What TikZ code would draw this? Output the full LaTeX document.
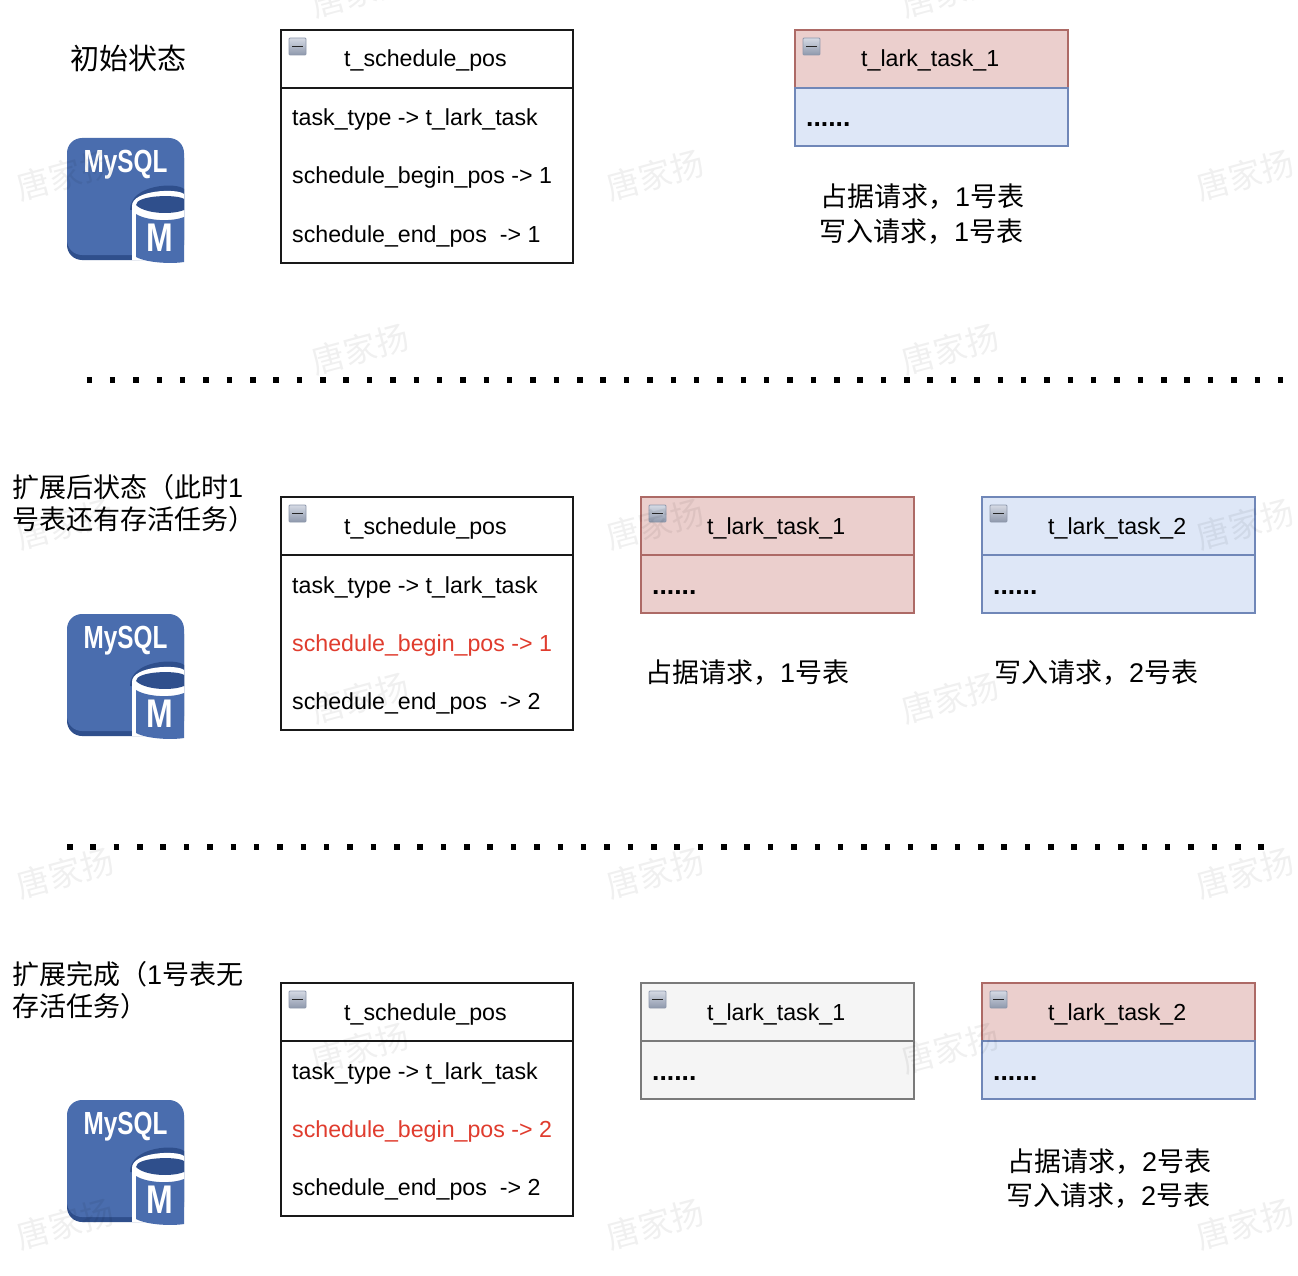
\documentclass[tikz,border=0pt]{standalone}
\usepackage{fontspec}
\setmainfont{Liberation Sans}
\newfontfamily\cjk{Noto Sans CJK SC}
\definecolor{redfill}{HTML}{EBCFCD}
\definecolor{redline}{HTML}{AD6A66}
\definecolor{bluefill}{HTML}{DEE7F7}
\definecolor{blueline}{HTML}{7087B8}
\definecolor{greyfill}{HTML}{F5F5F5}
\definecolor{greyline}{HTML}{7A7A7A}
\definecolor{awsblue}{HTML}{4A6DAE}
\definecolor{awsdark}{HTML}{2F4F8C}
\definecolor{hot}{HTML}{E03C2E}
\definecolor{togtop}{HTML}{D5DAE4}
\definecolor{togbot}{HTML}{8E98AC}
\newcommand{\zw}[1]{{\cjk #1}}
\newcommand{\tbltxt}{\fontsize{23.2}{26}\selectfont}
\newcommand{\cjktxt}{\fontsize{27}{33}\selectfont}
\tikzset{
  x=1pt,y=-1pt,
  cell/.style={draw,line width=2pt,rectangle,minimum width=#1,inner sep=0pt,outer sep=0pt,anchor=north west},
  rowtext/.style={anchor=base west,inner sep=0pt,font=\tbltxt},
  captext/.style={anchor=base west,inner sep=0pt,font=\cjktxt},
  dottext/.style={anchor=base west,inner sep=0pt,font=\fontsize{26.5}{26}\bfseries\selectfont},
  wmark/.style={font=\cjk\fontsize{33}{33}\selectfont,text=black,text opacity=0.06,rotate=15,inner sep=0pt},
  dotline/.style={line width=5.5pt,dash pattern=on 5.5pt off 17.86pt},
  toggle/.style={draw=togbot,line width=0.8pt,top color=togtop,bottom color=togbot,rounded corners=1pt,minimum size=17pt,inner sep=0pt,outer sep=0pt,anchor=north west}
}
% name, x, y, width, head fill, head line, body fill, body line, title
\newcommand{\taskbox}[9]{%
  \node[cell=#4,minimum height=58pt,fill=#5,draw=#6] (#1h) at (#2,#3) {};
  \node[cell=#4,minimum height=58pt,fill=#7,draw=#8] (#1b) at (#2,#3+58) {};
  \node[toggle] (#1t) at (#2+8,#3+8) {};
  \draw[line width=1.6pt,black!85] ([xshift=3pt]#1t.west) -- ([xshift=-3pt]#1t.east);
  \node[rowtext] (#1n) at (#2+66,#3+37) {#9};
  \node[dottext] (#1d) at (#2+11,#3+97) {......};
}
% name, y, row2 colour, row2 text, row3 text
\newcommand{\schedbox}[5]{%
  \node[cell=292pt,minimum height=233pt,fill=white,draw=black!90] (#1o) at (281,#2) {};
  \draw[line width=2pt,black!90] (281,#2+58) coordinate (#1l) -- (573,#2+58) coordinate (#1r);
  \node[toggle] (#1t) at (289,#2+8) {};
  \draw[line width=1.6pt,black!85] ([xshift=3pt]#1t.west) -- ([xshift=-3pt]#1t.east);
  \node[rowtext] (#1n) at (344,#2+37) {t\_schedule\_pos};
  \node[rowtext] (#1a) at (292,#2+96) {task\_type -> t\_lark\_task};
  \node[rowtext,text=#3] (#1c) at (292,#2+154) {#4};
  \node[rowtext] (#1e) at (292,#2+212) {#5};
}
% name, x, y of the top-left corner
\newcommand{\mysqlicon}[3]{%
  \begin{scope}[shift={(#2,#3)}]
    \fill[awsdark,rounded corners=15pt] (0,5) rectangle (117,122);
    \fill[awsblue,rounded corners=15pt] (0,0) rectangle (117,117);
    % dark rim above the can
    \fill[awsdark] (63,72) .. controls (63,46) and (110,44) .. (117,51) -- (117,72) -- cycle;
    % white can
    \fill[white] (65,122) -- (65,68) .. controls (65,52) and (110,50) .. (117,56) -- (117,125) -- (69,122) -- cycle;
    % lid
    \fill[awsdark] (69,67) .. controls (69,57) and (110,56) .. (117,61) -- (117,72) .. controls (105,77) and (78,76) .. (69,67) -- cycle;
    % barrel
    \fill[awsblue] (69,76) .. controls (80,83) and (105,84) .. (117,79) -- (117,124) .. controls (105,126) and (80,125) .. (69,119) -- cycle;
    \node[anchor=center,inner sep=0pt,text=white,font=\bfseries\fontsize{32}{32}\selectfont,xscale=0.76,yscale=1] (#1s) at (58.5,27) {MySQL};
    \node[anchor=center,inner sep=0pt,text=white,font=\bfseries\fontsize{40}{40}\selectfont,xscale=0.8] (#1m) at (93,99.5) {M};
  \end{scope}
}
\begin{document}
\begin{tikzpicture}
\useasboundingbox (0,0) rectangle (1298,1276);
\fill[white] (0,0) rectangle (1298,1276);
% dotted separators
\coordinate (d1a) at (86.5,380); \coordinate (d1b) at (1284,380);
\coordinate (d2a) at (67,847); \coordinate (d2b) at (1265,847);
\draw[dotline] (d1a) -- (d1b);
\draw[dotline] (d2a) -- (d2b);
% section 1
\node[anchor=base west,inner sep=0pt,font=\cjk\fontsize{29}{33}\selectfont] (s1) at (70,70) {初始状态};
\mysqlicon{ia}{67}{138}
\schedbox{sa}{30}{black}{schedule\_begin\_pos -> 1}{schedule\_end\_pos\ \ -> 1}
\taskbox{ta}{795}{30}{273pt}{redfill}{redline}{bluefill}{blueline}{t\_lark\_task\_1}
\node[captext] (ca1) at (820,207) {\zw{占据请求，}1\zw{号表}};
\node[captext] (ca2) at (819,241) {\zw{写入请求，}1\zw{号表}};
% section 2
\node[captext] (s2a) at (12,497) {\zw{扩展后状态（此时}1};
\node[captext] (s2b) at (12,529) {\zw{号表还有存活任务）}};
\mysqlicon{ib}{67}{614}
\schedbox{sb}{497}{hot}{schedule\_begin\_pos -> 1}{schedule\_end\_pos\ \ -> 2}
\taskbox{tb}{641}{497}{273pt}{redfill}{redline}{redfill}{redline}{t\_lark\_task\_1}
\taskbox{tc}{982}{497}{273pt}{bluefill}{blueline}{bluefill}{blueline}{t\_lark\_task\_2}
\node[captext] (cb1) at (645,682) {\zw{占据请求，}1\zw{号表}};
\node[captext] (cb2) at (994,682) {\zw{写入请求，}2\zw{号表}};
% section 3
\node[captext] (s3a) at (12,984) {\zw{扩展完成（}1\zw{号表无}};
\node[captext] (s3b) at (12,1016) {\zw{存活任务）}};
\mysqlicon{ic}{67}{1100}
\schedbox{sc}{983}{hot}{schedule\_begin\_pos -> 2}{schedule\_end\_pos\ \ -> 2}
\taskbox{td}{641}{983}{273pt}{greyfill}{greyline}{greyfill}{greyline}{t\_lark\_task\_1}
\taskbox{te}{982}{983}{273pt}{redfill}{redline}{bluefill}{blueline}{t\_lark\_task\_2}
\node[captext] (cc1) at (1007,1171) {\zw{占据请求，}2\zw{号表}};
\node[captext] (cc2) at (1006,1205) {\zw{写入请求，}2\zw{号表}};
% watermarks lie over everything
\foreach \wx/\wy/\wn in {360/-8/a,950/-8/b,65/175/c,655/175/d,1245/175/e,360/349/f,950/349/g,65/524/h,655/524/i,1245/524/j,360/698/k,950/698/l,65/873/m,655/873/n,1245/873/o,360/1048/p,950/1048/q,65/1224/r,655/1224/s,1245/1224/t}
  \node[wmark] (w\wn) at (\wx,\wy) {唐家扬};
\end{tikzpicture}
\end{document}
